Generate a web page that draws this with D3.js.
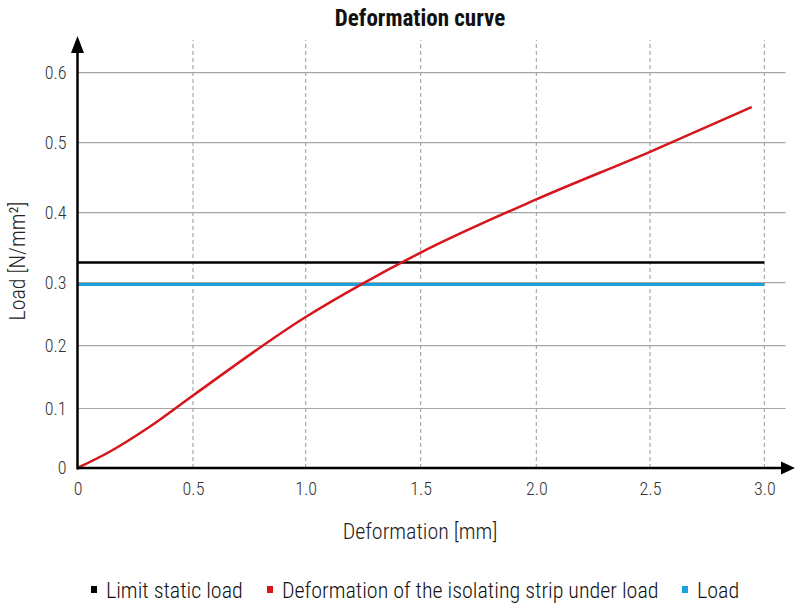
<!DOCTYPE html>
<html><head><meta charset="utf-8">
<script src="https://cdn.jsdelivr.net/npm/d3@7"></script>
<style>
body{margin:0;background:#fff;}
text{font-family:"Roboto Condensed","Liberation Sans Narrow","Roboto","Liberation Sans",sans-serif;}
</style></head>
<body><svg id="c" width="795" height="605"></svg>
<script>
const xTicks = [0, 0.5, 1.0, 1.5, 2.0, 2.5, 3.0];
const xTickLabels = ["0", "0.5", "1.0", "1.5", "2.0", "2.5", "3.0"];
const yTicks = [0, 0.1, 0.2, 0.3, 0.4, 0.5, 0.6];
const yTickLabels = ["0", "0.1", "0.2", "0.3", "0.4", "0.5", "0.6"];
const curveX = [0, 0.141, 0.314, 0.5, 1.0, 1.24, 1.5, 2.0, 2.5, 2.945];
const curveY = [0, 0.0277, 0.0697, 0.1207, 0.2456, 0.297, 0.343, 0.419, 0.487, 0.551];
const limitStaticLoad = 0.329;
const loadValue = 0.297;
const xMaxLine = 3.0;
const seriesNames = ["Limit static load", "Deformation of the isolating strip under load", "Load"];
const seriesColors = ["#000000", "#d6151d", "#1ba1dc"];

const svg = d3.select("#c");
const x = d3.scaleLinear().domain(xTicks).range([77.5, 193, 305.7, 420.7, 536.3, 650, 764.3]);
const y = d3.scaleLinear().domain(yTicks).range([468, 408.5, 345.7, 282.7, 212.7, 142.7, 72.7]);

// horizontal grid
svg.append("g").selectAll("line").data(yTicks.slice(1)).join("line")
  .attr("x1", x(0)).attr("x2", 785.5)
  .attr("y1", d => y(d)).attr("y2", d => y(d))
  .attr("stroke", "#a6a6a6").attr("stroke-width", 1.2);
// vertical dashed grid
svg.append("g").selectAll("line").data(xTicks.slice(1)).join("line")
  .attr("x1", d => x(d)).attr("x2", d => x(d))
  .attr("y1", 468).attr("y2", 40)
  .attr("stroke", "#999").attr("stroke-width", 1).attr("stroke-dasharray", "4,3");

// lines
svg.append("line").attr("x1", x(0)).attr("x2", x(xMaxLine))
  .attr("y1", y(loadValue)).attr("y2", y(loadValue))
  .attr("stroke", seriesColors[2]).attr("stroke-width", 3);
svg.append("line").attr("x1", x(0)).attr("x2", x(xMaxLine))
  .attr("y1", y(limitStaticLoad)).attr("y2", y(limitStaticLoad))
  .attr("stroke", seriesColors[0]).attr("stroke-width", 2.5);

const pts = curveX.map((d, i) => [d, curveY[i]]);
svg.append("path").datum(pts)
  .attr("d", d3.line().x(d => x(d[0])).y(d => y(d[1])).curve(d3.curveMonotoneX))
  .attr("fill", "none").attr("stroke", seriesColors[1]).attr("stroke-width", 2.5);

// axes
const ax = svg.append("g").attr("transform", "translate(0,468)")
  .call(d3.axisBottom(x).tickValues(xTicks).tickFormat((d, i) => xTickLabels[i]).tickSize(0).tickPadding(14));
ax.select(".domain").remove();
ax.selectAll("text").attr("font-size", 18).attr("font-weight", 300).attr("fill", "#333").attr("font-family", "'Roboto Condensed',Roboto,sans-serif");

const ay = svg.append("g").attr("transform", "translate(77.5,0)")
  .call(d3.axisLeft(y).tickValues(yTicks).tickFormat((d, i) => yTickLabels[i]).tickSize(0).tickPadding(11));
ay.select(".domain").remove();
ay.selectAll("text").attr("font-size", 18).attr("font-weight", 300).attr("fill", "#333").attr("font-family", "'Roboto Condensed',Roboto,sans-serif");

// axis lines with arrows
svg.append("line").attr("x1", 77.5).attr("x2", 783).attr("y1", 468).attr("y2", 468)
  .attr("stroke", "#000").attr("stroke-width", 2.5);
svg.append("path").attr("d", "M795,468 L781,461.5 L781,474.5 Z").attr("fill", "#000");
svg.append("line").attr("x1", 77.5).attr("x2", 77.5).attr("y1", 469.5).attr("y2", 50)
  .attr("stroke", "#000").attr("stroke-width", 2.5);
svg.append("path").attr("d", "M77.5,36 L71,53 L84,53 Z").attr("fill", "#000");

// titles
svg.append("text").attr("x", 420).attr("y", 26).attr("text-anchor", "middle")
  .attr("font-size", 23).attr("font-weight", "bold").attr("fill", "#111").text("Deformation curve");
svg.append("text").attr("x", 420).attr("y", 539).attr("text-anchor", "middle")
  .attr("font-size", 22).attr("font-weight", 300).attr("fill", "#222").text("Deformation [mm]");
svg.append("text").attr("transform", "translate(25,261) rotate(-90)").attr("text-anchor", "middle")
  .attr("font-size", 22).attr("font-weight", 300).attr("fill", "#222").text("Load [N/mm²]");

// legend
const legX = [91, 267, 682];
const lg = svg.append("g");
seriesNames.forEach((n, i) => {
  lg.append("rect").attr("x", legX[i]).attr("y", 586).attr("width", 6).attr("height", 7).attr("fill", seriesColors[i]);
  lg.append("text").attr("x", legX[i] + 15).attr("y", 598).attr("font-size", 22).attr("font-weight", 300).attr("fill", "#111").text(n);
});
</script></body></html>
